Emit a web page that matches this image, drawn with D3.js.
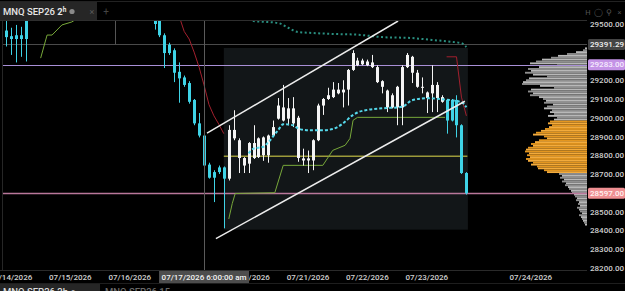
<!DOCTYPE html>
<html>
<head>
<meta charset="utf-8">
<script src="https://cdn.jsdelivr.net/npm/d3@7"></script>
<style>
  html, body { margin: 0; padding: 0; background: #000; overflow: hidden; }
  svg { display: block; font-family: Roboto, "Noto Sans", sans-serif; }
</style>
</head>
<body>
<div id="chart"></div>
<script>
// MNQ SEP26, 2h bars. Bars 5..29 sit above the visible price range and are left out.
const candleIdx = [0,1,2,3,4,
  30,31,32,33,34,35,36,37,38,39,40,41,42,43,44,45,46,47,48,49,50,51,52,53,54,55,56,57,58,59,60,61,
  62,63,64,65,66,67,68,69,70,71,72,73,74,75,76,77,78,79,80,81,82,83,84,85,86,87,88,89,90,91,92,93];
const opens = [29465,29435,29440,29440,29560,
  29545,29520,29440,29390,29360,29245,29215,29185,29095,28970,28905,28750,28710,28735,28735,28675,28890,28785,28745,28755,28785,28790,28800,28800,28905,28995,28985,28995,28970,28785,28772,28772,
  28772,28880,29065,29100,29110,29130,29135,29150,29255,29280,29285,29280,29270,29190,29165,29055,29055,29055,29055,29270,29240,29165,29160,29105,29130,29105,29085,29095,29095,29095,28960,28705];
const highs = [29520,29480,29495,29485,29600,
  29570,29530,29450,29400,29370,29295,29225,29195,29100,29025,28915,28760,28720,28745,28740,28960,29040,28890,28790,28870,28960,28895,28900,28910,28985,29105,29175,29105,29110,29010,28835,28825,
  28885,29075,29105,29160,29190,29185,29200,29260,29360,29320,29315,29310,29335,29280,29200,29150,29130,29170,29280,29345,29330,29255,29215,29140,29280,29190,29120,29100,29100,29120,28965,28710];
const lows = [29380,29335,29295,29325,29300,
  29470,29430,29265,29335,29190,29080,29165,29075,28960,28895,28740,28675,28550,28700,28410,28665,28880,28705,28705,28705,28780,28785,28770,28760,28900,28990,28980,28960,28950,28765,28745,28705,
  28720,28875,29015,29095,29105,29125,29055,29065,29250,29275,29280,29275,29265,29185,29130,29030,29050,28960,28960,29265,29185,29160,29130,29025,29030,29030,29080,28915,28980,28895,28700,28590];
const closes = [29430,29420,29420,29420,29420,
  29500,29440,29345,29345,29240,29210,29175,29085,28970,28905,28745,28680,28680,28710,28675,28935,28935,28880,28785,28865,28865,28890,28895,28905,28950,29065,29055,29050,29050,29000,28783,28783,
  28880,29065,29100,29120,29150,29150,29150,29255,29345,29305,29305,29300,29295,29270,29195,29145,29120,29165,29270,29335,29325,29240,29165,29135,29175,29175,29110,28985,28985,28960,28705,28597];

// indicator lines, [bar index, price]
const redLineA = [[35,29540],[36,29460],[37,29420],[38,29350],[39,29270],[40,29175],[41,29070],[42,29010],[43,28965],[44,28915]];
const redLineB = [[89,29325],[91,29325],[92,29110],[93,29010]];
const greenLineA = [[7,29318],[8.3,29441],[9.3,29441],[11.3,29495],[13.3,29511],[15,29540]];
const greenLineB = [[45,28460],[45.7,28542],[46.3,28596],[54.3,28600],[56,28746],[64,28746],[66,28826],[68.5,28853],[69.5,28890],[70.1,28986],[71,29002],[88.7,29002]];
const tealDots = [[49,29525],[50,29516],[52,29512],[55,29505],[57,29480],[59,29457],[62,29452],[66,29447],[71,29443],[76,29430],[82,29425],[86,29415],[90,29405],[92,29398],[93,29377]];
const cyanDash = [[49,28810],[50,28835],[52,28845],[53,28870],[55,28935],[56,28965],[58,28960],[59,28943],[61,28933],[64,28933],[66,28940],[68,28968],[70,29013],[71,29028],[73,29042],[76,29050],[80,29058],[82,29093],[85,29104],[88,29099],[92,29083],[93,29056]];
const yellowLevel = [[44,28794],[93.2,28794]];
const channelUpper = [[40.6,28918],[79.2,29516]];
const channelLower = [[42.4,28355],[92.7,29088]];
const shadeBox = [[44,29372],[93.3,28403]];
const anchorIdx = 22;
const crossIdx = 40;
const crossLabel = "07/17/2026 6:00:00 am";

// horizontal price levels shown on the axis
const levelPrices = [29391.29, 29283.00, 28597.00];

// axes (ticks under the level boxes are not shown)
const priceTicks = [29500,29200,29100,29000,28900,28800,28700,28500,28400,28300,28200];
const dateTickIdx = [1,13,25,49,61,73,85,106];
const dateTickLabels = ["07/14/2026","07/15/2026","07/16/2026","07/20/2026","07/21/2026","07/22/2026","07/23/2026","07/24/2026"];

// volume profile
const profilePrices = [29370,29360,29350,29340,29330,29320,29310,29300,29290,29280,29270,29260,29250,29240,29230,29220,29210,29200,29190,29180,
  29170,29160,29150,29140,29130,29120,29110,29100,29090,29080,29070,29060,29050,29040,29030,29020,29010,29000,28990,28980,
  28970,28960,28950,28940,28930,28920,28910,28900,28890,28880,28870,28860,28850,28840,28830,28820,28810,28800,28790,28780,
  28770,28760,28750,28740,28730,28720,28710,28700,28690,28680,28670,28660,28650,28640,28630,28620,28610,28600,28590,28580,
  28570,28560,28550,28540,28530,28520,28510,28500,28490,28480,28470,28460,28450,28440,28430];
const profileVols = [20,40,110,200,290,360,450,510,570,300,480,590,560,620,540,400,580,610,640,650,
  470,330,560,590,540,570,480,440,410,430,340,400,430,350,370,330,390,300,330,370,
  390,350,380,420,460,510,540,430,400,480,520,560,540,590,610,620,580,600,570,610,
  590,540,560,500,490,430,400,280,250,270,230,250,210,220,190,180,160,150,130,120,
  100,110,80,90,70,100,80,70,50,80,60,50,40,30,20];
const valueAreaHigh = 28985;
const valueAreaLow = 28705;

class CandleChart {

    constructor(_config) {
        this.config = {
            parentElement: _config.parentElement,
        }
        this.width = 625;
        this.height = 291;
        this.plotLeft = 3;
        this.plotRight = 587;
        this.plotTop = 21;
        this.plotBottom = 269;
        this.initVis();
    }

    initVis() {
        let vis = this;

        vis.bars = candleIdx.map((idx, k) => ({
            idx: idx, open: opens[k], high: highs[k], low: lows[k], close: closes[k]
        }));

        vis.x = d3.scaleLinear().domain([0, 93]).range([6, 466.4]);
        vis.y = d3.scaleLinear().domain([28200, 29500]).range([267.7, 24]);
        vis.vol = d3.scaleLinear().domain([0, 650]).range([0, 65]);
        vis.fmt = d3.format(".2f");

        vis.svg = d3.select(vis.config.parentElement).append("svg")
            .attr("width", vis.width)
            .attr("height", vis.height);

        vis.svg.append("rect")
            .attr("width", vis.width).attr("height", vis.height).attr("fill", "#000");

        vis.svg.append("clipPath").attr("id", "plotclip")
          .append("rect")
            .attr("x", vis.plotLeft).attr("y", vis.plotTop)
            .attr("width", vis.plotRight - vis.plotLeft)
            .attr("height", vis.plotBottom - vis.plotTop);

        vis.plot = vis.svg.append("g").attr("clip-path", "url(#plotclip)");

        vis.renderVis();
    }

    renderVis() {
        let vis = this;
        let line = d3.line().x(d => vis.x(d[0])).y(d => vis.y(d[1]));

        // frame lines
        vis.svg.append("line").attr("x1", 0).attr("x2", vis.width).attr("y1", 1.5).attr("y2", 1.5)
            .attr("stroke", "#222");
        vis.svg.append("line").attr("x1", 0).attr("x2", vis.plotRight).attr("y1", 20.5).attr("y2", 20.5)
            .attr("stroke", "#2e2e2e");
        vis.svg.append("line").attr("x1", 2.5).attr("x2", 2.5).attr("y1", 21).attr("y2", 270)
            .attr("stroke", "#262626");

        // shaded drawing box
        vis.plot.append("rect")
            .attr("x", vis.x(shadeBox[0][0]))
            .attr("y", vis.y(shadeBox[0][1]))
            .attr("width", vis.x(shadeBox[1][0]) - vis.x(shadeBox[0][0]))
            .attr("height", vis.y(shadeBox[1][1]) - vis.y(shadeBox[0][1]))
            .attr("fill", "#121618");

        // volume profile
        vis.plot.append("g")
          .selectAll("rect")
          .data(profilePrices)
          .join("rect")
            .attr("x", (d, i) => vis.plotRight - vis.vol(profileVols[i]))
            .attr("y", d => vis.y(d + 5))
            .attr("width", (d, i) => vis.vol(profileVols[i]))
            .attr("height", d => vis.y(d - 5) - vis.y(d + 5))
            .attr("fill", (d, i) => d <= valueAreaHigh && d >= valueAreaLow
                ? (i % 2 ? "#e4961f" : "#f3ab3c")
                : (i % 2 ? "#8f8f8f" : "#b8b8b8"));

        // price levels
        let levelColors = ["#4a4a4a", "#a88fd6", "#b9779a"];
        vis.plot.selectAll(".level")
          .data(levelPrices)
          .join("line")
            .attr("class", "level")
            .attr("x1", vis.plotLeft).attr("x2", vis.plotRight)
            .attr("y1", d => Math.round(vis.y(d)) + 0.5)
            .attr("y2", d => Math.round(vis.y(d)) + 0.5)
            .attr("stroke", (d, i) => levelColors[i])
            .attr("stroke-width", (d, i) => i === 2 ? 1.6 : 1);

        // anchor and crosshair verticals
        vis.plot.append("line")
            .attr("x1", Math.round(vis.x(anchorIdx)) + 0.5).attr("x2", Math.round(vis.x(anchorIdx)) + 0.5)
            .attr("y1", vis.y(levelPrices[0])).attr("y2", vis.plotTop)
            .attr("stroke", "#555");
        vis.svg.append("line")
            .attr("x1", Math.round(vis.x(crossIdx)) + 0.5).attr("x2", Math.round(vis.x(crossIdx)) + 0.5)
            .attr("y1", vis.plotTop).attr("y2", 270)
            .attr("stroke", "#5a5a5a");

        // indicator lines
        vis.plot.append("path").datum(yellowLevel).attr("d", line)
            .attr("fill", "none").attr("stroke", "#9c9a3a").attr("stroke-width", 1.5);
        [greenLineA, greenLineB].forEach(g => {
            vis.plot.append("path").datum(g).attr("d", line)
                .attr("fill", "none").attr("stroke", "#78a83a").attr("stroke-width", 1);
        });
        vis.plot.append("path").datum(tealDots).attr("d", line.curve(d3.curveMonotoneX))
            .attr("fill", "none").attr("stroke", "#2a8f80").attr("stroke-width", 2)
            .attr("stroke-dasharray", "2,2.5");
        line.curve(d3.curveLinear);
        [redLineA, redLineB].forEach(r => {
            vis.plot.append("path").datum(r).attr("d", line)
                .attr("fill", "none").attr("stroke", "#a3202e").attr("stroke-width", 1);
        });

        // candles
        let candle = vis.plot.append("g")
          .selectAll("g")
          .data(vis.bars)
          .join("g")
            .attr("fill", d => d.close >= d.open ? "#f4f4f4" : "#3fd3e6")
            .attr("stroke", d => d.close >= d.open ? "#f4f4f4" : "#3fd3e6");

        candle.append("line")
            .attr("x1", d => Math.round(vis.x(d.idx)) + 0.5)
            .attr("x2", d => Math.round(vis.x(d.idx)) + 0.5)
            .attr("y1", d => vis.y(d.high))
            .attr("y2", d => vis.y(d.low))
            .attr("stroke-width", 1);

        candle.append("rect")
            .attr("x", d => Math.round(vis.x(d.idx)) - 1)
            .attr("y", d => vis.y(Math.max(d.open, d.close)))
            .attr("width", 3)
            .attr("height", d => Math.max(1, vis.y(Math.min(d.open, d.close)) - vis.y(Math.max(d.open, d.close))))
            .attr("stroke", "none");

        // cyan dashed average and channel lines over the bars
        vis.plot.append("path").datum(cyanDash).attr("d", line.curve(d3.curveMonotoneX))
            .attr("fill", "none").attr("stroke", "#55d8ea").attr("stroke-width", 2)
            .attr("stroke-dasharray", "3,2");
        line.curve(d3.curveLinear);
        [channelUpper, channelLower].forEach(c => {
            vis.plot.append("path").datum(c).attr("d", line)
                .attr("fill", "none").attr("stroke", "#ececec").attr("stroke-width", 1.5);
        });

        // price axis
        let axis = vis.svg.append("g")
            .attr("transform", `translate(${vis.plotRight},0)`)
            .call(d3.axisRight(vis.y).tickValues(priceTicks).tickSize(0).tickPadding(3).tickFormat(vis.fmt));
        axis.select(".domain").remove();
        axis.selectAll("text")
            .attr("fill", "#cfcfcf").attr("font-size", 8).attr("font-weight", 500)
            .attr("font-family", "Roboto, sans-serif");

        let boxFill = ["#444", "#c493e6", "#ef8f92"];
        let boxText = ["#f0f0f0", "#f6ecff", "#fff2f2"];
        let box = vis.svg.append("g")
          .selectAll("g")
          .data(levelPrices)
          .join("g")
            .attr("transform", d => `translate(${vis.plotRight + 1},${vis.y(d)})`);
        box.append("rect")
            .attr("x", 0).attr("y", -5.5).attr("width", 37).attr("height", 11).attr("rx", 1.5)
            .attr("fill", (d, i) => boxFill[i]);
        box.append("text")
            .attr("x", 2).attr("dy", "0.34em")
            .attr("font-size", 8).attr("font-weight", 500)
            .attr("fill", (d, i) => boxText[i])
            .text(d => vis.fmt(d));

        // date axis
        vis.svg.append("line").attr("x1", 0).attr("x2", vis.plotRight).attr("y1", 270.5).attr("y2", 270.5)
            .attr("stroke", "#2a2a2a");
        vis.svg.append("g")
          .selectAll("text")
          .data(dateTickIdx)
          .join("text")
            .attr("x", d => vis.x(d))
            .attr("y", 279.5)
            .attr("text-anchor", "middle")
            .attr("font-size", 8).attr("font-weight", 500)
            .attr("fill", "#d0d0d0")
            .text((d, i) => dateTickLabels[i]);

        let cx = vis.x(crossIdx);
        vis.svg.append("rect")
            .attr("x", cx - 45).attr("y", 271).attr("width", 90).attr("height", 12)
            .attr("fill", "#4d4d4d");
        vis.svg.append("text")
            .attr("x", cx).attr("y", 279.8).attr("text-anchor", "middle")
            .attr("font-size", 8).attr("font-weight", 500).attr("fill", "#f2f2f2")
            .text(crossLabel);

        // header tab
        vis.svg.append("rect").attr("x", 0).attr("y", 2).attr("width", 97).attr("height", 18)
            .attr("fill", "#262626");
        let title = vis.svg.append("text").attr("x", 3).attr("y", 15)
            .attr("font-size", 9.5).attr("font-weight", 500).attr("fill", "#e6e6e6");
        title.append("tspan").text("MNQ SEP26 ");
        title.append("tspan").attr("font-weight", 700).text("2");
        title.append("tspan").attr("font-size", 6.5).attr("font-weight", 700).attr("dy", -3.5).text("h");
        vis.svg.append("circle").attr("cx", 72).attr("cy", 11.5).attr("r", 2.6).attr("fill", "#8a8a8a");
        vis.svg.append("text").attr("x", 92).attr("y", 15).attr("text-anchor", "middle")
            .attr("font-size", 9).attr("fill", "#5a5a5a").text("×");
        vis.svg.append("text").attr("x", 106).attr("y", 15).attr("text-anchor", "middle")
            .attr("font-size", 10).attr("fill", "#444").text("+");

        // top-right pane icons
        vis.svg.append("g")
          .selectAll("text")
          .data(["H", "◯", "⚲", "×"])
          .join("text")
            .attr("x", (d, i) => 588 + i * 10.5).attr("y", 15)
            .attr("text-anchor", "middle")
            .attr("font-size", 7.5).attr("fill", "#555")
            .text(d => d);

        // next pane header, cut at the bottom
        vis.svg.append("line").attr("x1", 0).attr("x2", vis.width).attr("y1", 283.5).attr("y2", 283.5)
            .attr("stroke", "#1e1e1e");
        vis.svg.append("rect").attr("x", 0).attr("y", 284).attr("width", 100).attr("height", 7)
            .attr("fill", "#262626");
        vis.svg.append("text").attr("x", 3).attr("y", 295)
            .attr("font-size", 9.5).attr("font-weight", 500).attr("fill", "#dcdcdc")
            .text("MNQ SEP26 2h ●");
        vis.svg.append("text").attr("x", 105).attr("y", 295)
            .attr("font-size", 9.5).attr("font-weight", 500).attr("fill", "#6a6a6a")
            .text("MNQ SEP26 15");
    }
}

new CandleChart({ parentElement: "#chart" });
</script>
</body>
</html>
